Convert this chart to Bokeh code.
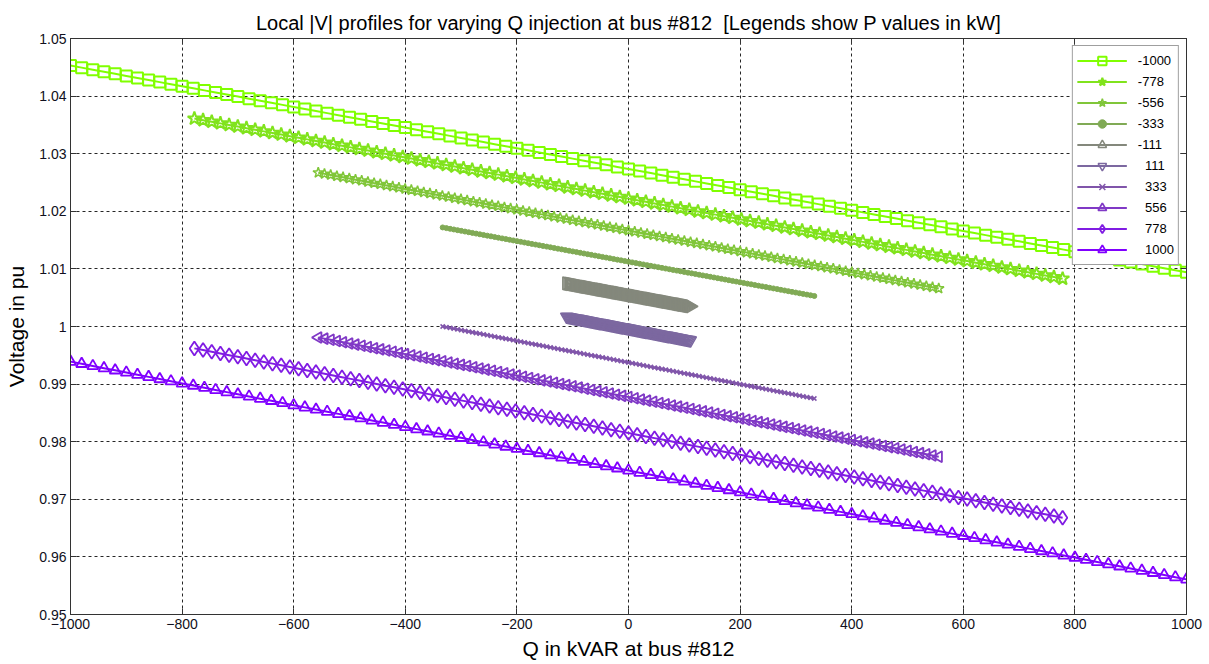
import math
import numpy as np
from bokeh.plotting import figure
from bokeh.models import Range1d, LinearAxis, FixedTicker, CustomJSTickFormatter
from bokeh.embed import file_html
from bokeh.resources import INLINE

# Active power setpoints (kW), one profile per setpoint
p_kw = [-1000, -778, -556, -333, -111, 111, 333, 556, 778, 1000]
# |V| at the two ends of each Q sweep (Q = -|P| ... +|P|)
v_at_qmin = [1.0453, 1.0361, 1.0267, 1.0172, 1.0075, 1.0017, 1.0000, 0.9981, 0.9962, 0.9939]
v_at_qmax = [1.0094, 1.0083, 1.0066, 1.0053, 1.0035, 0.9976, 0.9875, 0.9774, 0.9668, 0.9561]
n_steps = 101

legend_labels = ["-1000", "-778", "-556", "-333", "-111",
                 "\u00a0\u00a0111", "\u00a0\u00a0333", "\u00a0\u00a0556", "\u00a0\u00a0778", "\u00a0\u00a01000"]

x_ticks = [-1000, -800, -600, -400, -200, 0, 200, 400, 600, 800, 1000]
y_ticks = [0.95, 0.96, 0.97, 0.98, 0.99, 1.00, 1.01, 1.02, 1.03, 1.04, 1.05]

# green -> violet ramp
colors = ["#80ff00", "#80e31c", "#80c639", "#80aa55", "#84887c",
          "#7c68a0", "#8055aa", "#8039c6", "#801ce3", "#8000ff"]
# (marker, size, angle, filled, marker line width)
marker_styles = [
    ("square", 11, 0.0, False, 2.0),
    ("star", 14, 0.0, False, 2.0),
    ("star", 11, 0.0, False, 1.5),
    ("circle", 5, 0.0, True, 1.0),
    ("triangle", 13, -math.pi / 2, False, 1.5),
    ("inverted_triangle", 12, 0.0, False, 1.5),
    ("x", 6, 0.0, False, 1.5),
    ("triangle", 11, math.pi / 2, False, 1.8),
    ("diamond", 14, 0.0, False, 1.8),
    ("triangle", 11, 0.0, False, 1.8),
]

FONT = "Liberation Sans"

p = figure(
    frame_width=1116, frame_height=576,
    min_border_left=70, min_border_right=23, min_border_top=38, min_border_bottom=50,
    x_range=Range1d(-1000, 1000), y_range=Range1d(0.95, 1.05),
    output_backend="svg", toolbar_location=None,
    title="Local |V| profiles for varying Q injection at bus #812 \u00a0[Legends show P values in kW]",
)
p.background_fill_color = "white"
p.border_fill_color = "white"
p.outline_line_color = "#333333"
p.outline_line_width = 1

p.title.align = "center"
p.title.text_font = FONT
p.title.text_font_size = "20px"
p.title.text_font_style = "normal"
p.title.text_color = "#000000"
p.title.standoff = 10

xt = FixedTicker(ticks=x_ticks)
yt = FixedTicker(ticks=y_ticks)
yfmt = CustomJSTickFormatter(code="return String(Number(tick.toFixed(2)));")

for ax in p.xaxis:
    ax.ticker = xt
    ax.axis_label = "Q in kVAR at bus #812"
for ax in p.yaxis:
    ax.ticker = yt
    ax.formatter = yfmt
    ax.axis_label = "Voltage in pu"

for ax in list(p.xaxis) + list(p.yaxis):
    ax.major_tick_in = 6
    ax.major_tick_out = 0
    ax.minor_tick_line_color = None
    ax.axis_line_color = "#333333"
    ax.major_tick_line_color = "#333333"
    ax.major_label_text_font = FONT
    ax.major_label_text_font_size = "14px"
    ax.major_label_text_color = "#101020"
    ax.major_label_standoff = 4
    ax.axis_label_text_font = FONT
    ax.axis_label_text_font_size = "21px"
    ax.axis_label_text_font_style = "normal"
    ax.axis_label_text_color = "#000000"
p.xaxis.axis_label_standoff = 5
p.yaxis.axis_label_standoff = 8

# box frame: tick marks on the top and right edges too
for loc in ("right", "above"):
    extra = LinearAxis(ticker=xt if loc == "above" else yt)
    extra.major_tick_in = 6
    extra.major_tick_out = 0
    extra.minor_tick_line_color = None
    extra.major_label_text_font_size = "0px"
    extra.major_label_text_color = None
    extra.axis_line_color = "#333333"
    extra.major_tick_line_color = "#333333"
    p.add_layout(extra, loc)

p.xgrid.ticker = xt
p.ygrid.ticker = yt
for g in (p.xgrid, p.ygrid):
    g.grid_line_color = "#000000"
    g.grid_line_dash = "3 3"
    g.grid_line_width = 1
    g.grid_line_alpha = 0.85

for i, pk in enumerate(p_kw):
    q = np.linspace(-abs(pk), abs(pk), n_steps)
    v = np.linspace(v_at_qmin[i], v_at_qmax[i], n_steps)
    c = colors[i]
    mk, sz, ang, filled, mlw = marker_styles[i]
    p.line(q, v, line_color=c, line_width=2, legend_label=legend_labels[i])
    p.scatter(q, v, marker=mk, size=sz, angle=ang,
              line_color=c, line_width=mlw,
              fill_color=c if filled else None,
              legend_label=legend_labels[i])

lg = p.legend[0]
lg.location = "top_right"
lg.margin = 7
lg.padding = 4
lg.spacing = 0
lg.glyph_height = 21
lg.glyph_width = 50
lg.label_standoff = 11
lg.label_height = 21
lg.label_text_font = FONT
lg.label_text_font_size = "13px"
lg.label_text_color = "#000000"
lg.border_line_color = "#404040"
lg.border_line_width = 1
lg.background_fill_color = "white"
lg.background_fill_alpha = 1.0

open("out.html", "w").write(file_html(p, INLINE))
